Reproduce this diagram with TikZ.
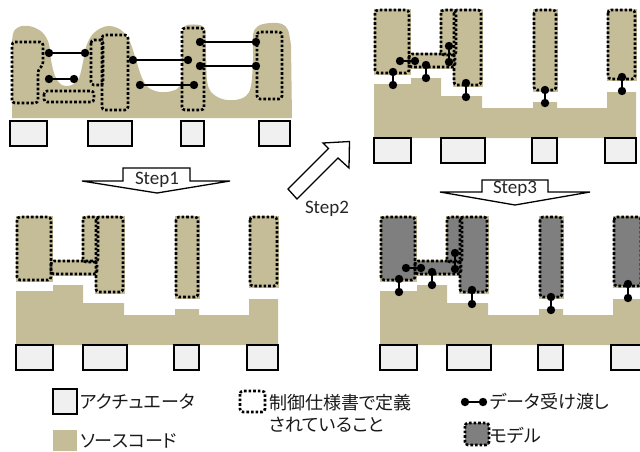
\documentclass[tikz,border=0pt]{standalone}
\usepackage{fontspec}
\setmainfont{Carlito}
\newfontfamily\jpfont[RawFeature=+palt]{Noto Sans CJK JP}
\definecolor{srcc}{RGB}{196,189,151}
\definecolor{actc}{RGB}{240,240,240}
\definecolor{mdlc}{RGB}{127,127,127}
\tikzset{
 actbox/.style={draw=black, fill=actc, line width=1.5pt},
 specline/.style={draw=black, line width=2.6pt, dash pattern=on 2.6pt off 2pt, rounded corners=3pt},
 linkline/.style={draw=black, line width=2pt},
 stepshape/.style={draw=black, fill=white, line width=1.3pt, line join=miter},
 steptext/.style={font=\fontsize{19}{19}\selectfont, text=black!85, inner sep=0pt},
 legtext/.style={font=\jpfont\fontsize{18}{18}\selectfont, anchor=west, inner sep=0pt, text=black!90},
}
\newcommand\actrow{%
 \draw[actbox] (16,345) rectangle (53,370);
 \draw[actbox] (83,345) rectangle (127,370);
 \draw[actbox] (174,345) rectangle (199,370);
 \draw[actbox] (247,345) rectangle (278,370);}
\newcommand\stairs{%
 \fill[srcc] (16,345) -- (16,291) -- (53,291) -- (53,285) -- (83,285) -- (83,303) -- (124,303) -- (124,315) -- (175,315) -- (175,309) -- (199,309) -- (199,315) -- (249,315) -- (249,299) -- (278,299) -- (278,345) -- cycle;}
\newcommand\rectlist{17/217/51/280, 51/261/97/274, 83/217/98/262, 96/217/123/292, 176/217/198/297, 250/217/277/286}
\newcommand\specrects[1]{%
 \foreach \a/\b/\c/\d in \rectlist {\fill[srcc] (\a-1.5,\b-1.5) rectangle (\c+1.5,\d+1.5);}
 \foreach \a/\b/\c/\d in \rectlist {\fill[#1] (\a,\b) rectangle (\c,\d);}
 \foreach \a/\b/\c/\d in \rectlist {\draw[specline] (\a,\b) rectangle (\c,\d);}}
\newcommand\dlink[3]{%
 \coordinate (#1a) at #2; \coordinate (#1b) at #3;
 \draw[linkline] (#1a) -- (#1b);
 \fill (#1a) circle (4.2pt); \fill (#1b) circle (4.2pt);}
\newcommand\paneldots[1]{%
 \dlink{#1v1}{(35,279)}{(35,292)}
 \dlink{#1v2}{(68,272)}{(68,285)}
 \dlink{#1v3}{(108,290)}{(108,304)}
 \dlink{#1v4}{(187,297)}{(187,310)}
 \dlink{#1v5}{(264,284)}{(264,298)}
 \dlink{#1h1}{(42,268)}{(57,268)}
 \dlink{#1v6}{(91,253)}{(91,269)}}
\begin{document}
\begin{tikzpicture}[x=1pt,y=-1pt]
\useasboundingbox (0,0) rectangle (640,451);
% ---------- top-left panel ----------
\fill[srcc] (12,118) -- plot[smooth, tension=0.55] coordinates {(12,42) (14,31) (22,26) (33,27) (43,33) (49,44) (51,60) (55,76) (62,85) (72,85) (79,78) (83,62) (86,47) (92,35) (101,28) (110,26) (121,30) (130,42) (136,60) (142,78) (149,88) (160,92) (172,91) (180,86) (182,70) (182,40) (183,29) (187,25) (200,25) (205,30) (206,50) (207,80) (211,92) (222,99) (235,100) (246,96) (251,86) (253,60) (253,35) (258,26) (270,23) (282,24) (288,30) (291,45)} -- (292,118) -- cycle;
\draw[specline] (12,42) -- (43,42) -- (43,65) -- (38,70) -- (38,103) -- (12,103) -- cycle;
\draw[specline] (44,91) rectangle (94,102);
\draw[specline] (91,40) rectangle (103,85);
\draw[specline] (102,35) rectangle (128,110);
\draw[specline] (182,28) rectangle (204,110);
\draw[specline] (257,32) rectangle (282,99);
\dlink{tl1}{(49,53)}{(85,53)}
\dlink{tl2}{(49,79)}{(74,79)}
\dlink{tl3}{(133,60)}{(188,60)}
\dlink{tl4}{(140,85)}{(194,85)}
\dlink{tl5}{(200,42)}{(256,42)}
\dlink{tl6}{(200,66)}{(256,66)}
\draw[actbox] (10,121) rectangle (47,146);
\draw[actbox] (88,121) rectangle (132,146);
\draw[actbox] (181,121) rectangle (204,146);
\draw[actbox] (259,121) rectangle (290,146);
% ---------- bottom-left panel ----------
\stairs
\specrects{srcc}
\actrow
% ---------- top-right panel ----------
\begin{scope}[shift={(358,-207)}]
\stairs
\specrects{srcc}
\paneldots{tr}
\actrow
\end{scope}
% ---------- bottom-right panel ----------
\begin{scope}[shift={(364,0)}]
\stairs
\specrects{mdlc}
\paneldots{br}
\actrow
\end{scope}
% ---------- step arrows ----------
\draw[stepshape] (123,168) -- (190,168) -- (190,181) -- (230,181) -- (157,193) -- (82,181) -- (123,181) -- cycle;
\node[steptext] (s1) at (157,180) {Step1};
\draw[stepshape] (482,180) -- (548,180) -- (548,192) -- (590,192) -- (515,205) -- (440,192) -- (482,192) -- cycle;
\node[steptext] (s3) at (515,189) {Step3};
\draw[stepshape] (288,189) -- (328.5,148.5) -- (323,143) -- (349.5,141.5) -- (349,168) -- (338,158) -- (297,199) -- cycle;
\node[steptext] (s2) at (327,209) {Step2};
% ---------- legend ----------
\draw[actbox] (53,389) rectangle (77,414);
\node[legtext] (l1) at (80,402) {アクチュエータ};
\fill[srcc] (53,430) rectangle (77,451);
\node[legtext] (l2) at (80,441) {ソースコード};
\draw[specline] (240,391) rectangle (265,412);
\node[legtext] (l3) at (269,403) {制御仕様書で定義};
\node[legtext] (l4) at (269,425) {されていること};
\dlink{lg}{(465,402)}{(483,402)}
\node[legtext] (l5) at (490,402) {データ受け渡し};
\fill[mdlc] (465,423) rectangle (489,445);
\draw[specline] (465,423) rectangle (489,445);
\node[legtext] (l6) at (490,435) {モデル};
\end{tikzpicture}
\end{document}
